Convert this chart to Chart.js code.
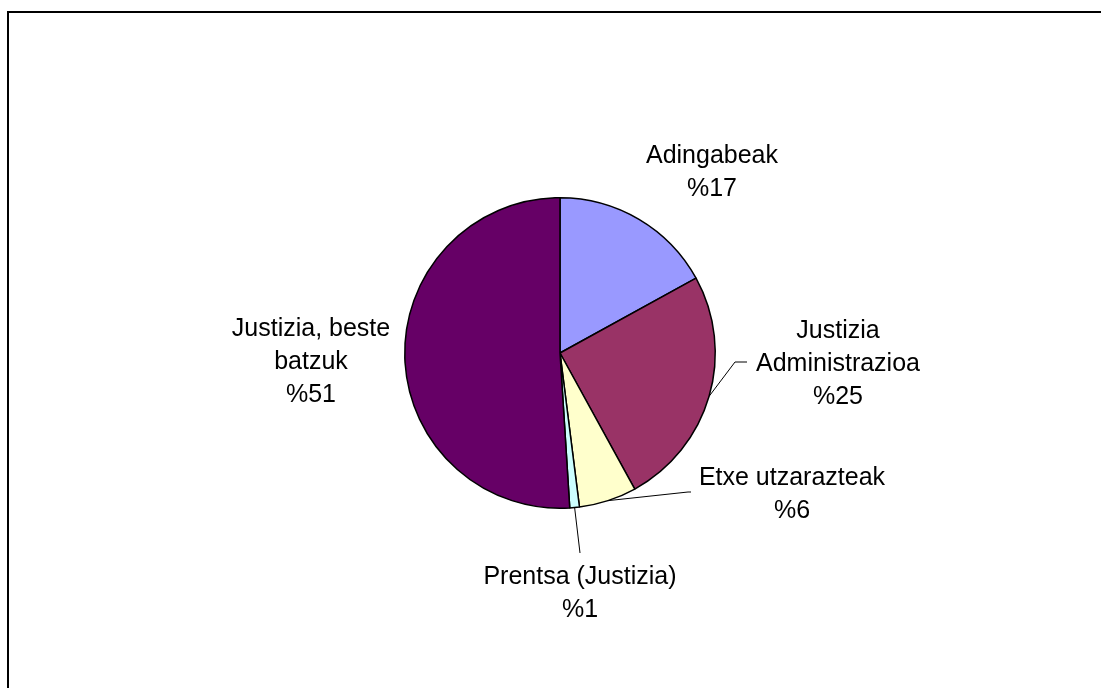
<!DOCTYPE html>
<html>
<head>
<meta charset="utf-8">
<script src="https://cdn.jsdelivr.net/npm/chart.js@4.4.0/dist/chart.umd.min.js"></script>
<style>
  body { margin: 0; background: #fff; overflow: hidden; }
  #frame { position: absolute; left: 7px; top: 11px; width: 1200px; height: 800px;
           border-top: 2px solid #000; border-left: 2px solid #000; }
  #wrap { position: absolute; left: 0; top: 0; width: 1101px; height: 688px; }
</style>
</head>
<body>
<div id="frame"></div>
<div id="wrap"><canvas id="myChart"></canvas></div>
<script>
// datuak
const labels = [
  ["Adingabeak"],
  ["Justizia", "Administrazioa"],
  ["Etxe utzarazteak"],
  ["Prentsa (Justizia)"],
  ["Justizia, beste", "batzuk"],
];
const values = [17, 25, 6, 1, 51];
const colors = ["#9999FF", "#993366", "#FFFFCC", "#CCFFFF", "#660066"];

// etiketen kokapena (erdigunetik) eta lerroak
const labelPlacement = [
  { dx: 152, dy: -183, leader: null },
  { dx: 278, dy: 9, leader: [[175, 9], [187, 9]] },
  { dx: 232, dy: 139, leader: [[128, 139], [131, 139]] },
  { dx: 20, dy: 238, leader: [[20, 200]] },
  { dx: -249, dy: 7, leader: null },
];

const labelPlugin = {
  id: "pieLabels",
  afterDatasetsDraw(chart) {
    const ctx = chart.ctx;
    const arcs = chart.getDatasetMeta(0).data;
    ctx.save();
    ctx.font = "25px 'Liberation Sans', Arial, sans-serif";
    ctx.fillStyle = "#000";
    ctx.textAlign = "center";
    ctx.textBaseline = "alphabetic";
    const lineH = 33;
    arcs.forEach((arc, i) => {
      const p = labelPlacement[i];
      const cx = arc.x, cy = arc.y;
      const mid = (arc.startAngle + arc.endAngle) / 2;
      const lines = labels[i].concat(["%" + values[i]]);
      const tx = cx + p.dx;
      const ty = cy + p.dy;
      const top = ty - ((lines.length - 1) * lineH) / 2;
      lines.forEach((t, k) => ctx.fillText(t, tx, top + k * lineH + 9));
      if (p.leader) {
        const ax = cx + Math.cos(mid) * arc.outerRadius;
        const ay = cy + Math.sin(mid) * arc.outerRadius;
        ctx.strokeStyle = "#000";
        ctx.lineWidth = 1;
        ctx.beginPath();
        ctx.moveTo(ax, ay);
        p.leader.forEach((pt) => ctx.lineTo(cx + pt[0], cy + pt[1]));
        ctx.stroke();
      }
    });
    ctx.restore();
  },
};

const config = {
  type: "pie",
  data: {
    labels: labels.map((l) => l.join(" ")),
    datasets: [
      {
        data: values,
        backgroundColor: colors,
        borderColor: "#000",
        borderWidth: 1.5,
      },
    ],
  },
  options: {
    responsive: false,
    animation: false,
    layout: { padding: { top: 197, bottom: 179, left: 404, right: 385 } },
    plugins: {
      legend: { display: false },
      tooltip: { enabled: false },
    },
  },
  plugins: [labelPlugin],
};

const canvas = document.getElementById("myChart");
canvas.width = 1101;
canvas.height = 688;
let chart = new Chart(canvas.getContext("2d"), config);
</script>
</body>
</html>
